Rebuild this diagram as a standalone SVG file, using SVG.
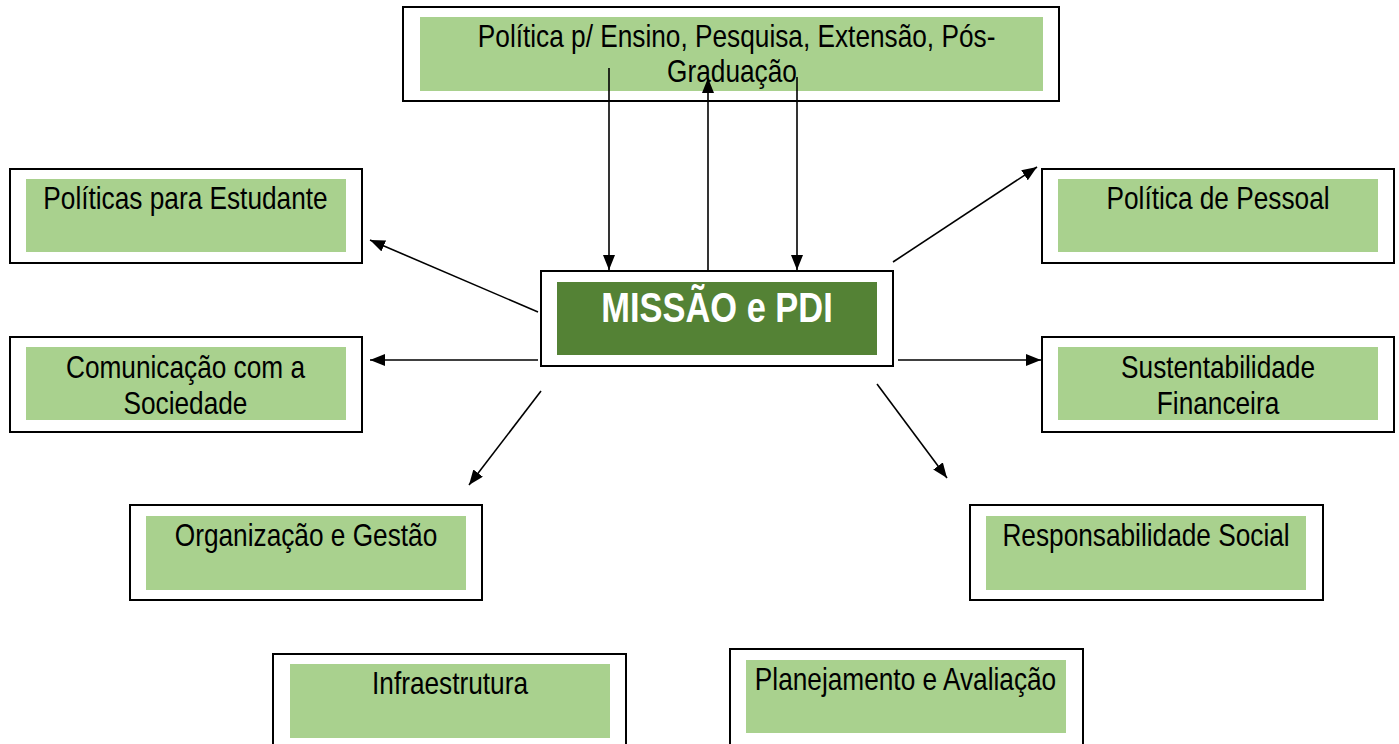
<svg xmlns="http://www.w3.org/2000/svg" width="1399" height="744" viewBox="0 0 1399 744">
<style>
.outer{fill:#fff;stroke:#000;stroke-width:2}
.inner{fill:#A9D18E}
.core{fill:#548235}
.t{font-family:"Liberation Sans",Arial,sans-serif;font-size:32px;fill:#000;text-anchor:middle}
.tb{font-family:"Liberation Sans",Arial,sans-serif;font-size:42px;font-weight:bold;fill:#fff;text-anchor:middle}
.c{stroke:#000;stroke-width:1.6;fill:none;marker-end:url(#ah)}
</style>
<defs>
<marker id="ah" markerUnits="userSpaceOnUse" markerWidth="16" markerHeight="12" refX="15" refY="6" orient="auto">
<path d="M0,0 L15,6 L0,12 z" fill="#000"/>
</marker>
</defs>
<rect width="1399" height="744" fill="#fff"/>

<g id="top">
<rect class="outer" x="403" y="7" width="656" height="94"/>
<rect class="inner" x="420" y="17" width="623" height="74"/>
<text class="t" transform="scale(0.82 1)" x="898.3" y="47">Política p/ Ensino, Pesquisa, Extensão, Pós-</text>
<text class="t" transform="scale(0.82 1)" x="892.7" y="82">Graduação</text>
</g>

<g id="estudante">
<rect class="outer" x="10" y="169" width="352" height="94"/>
<rect class="inner" x="26" y="179" width="320" height="73"/>
<text class="t" transform="scale(0.82 1)" x="226.2" y="209">Políticas para Estudante</text>
</g>

<g id="pessoal">
<rect class="outer" x="1042" y="169" width="352" height="94"/>
<rect class="inner" x="1058" y="179" width="320" height="73"/>
<text class="t" transform="scale(0.82 1)" x="1485.4" y="209">Política de Pessoal</text>
</g>

<g id="comunicacao">
<rect class="outer" x="10" y="337" width="352" height="95"/>
<rect class="inner" x="26" y="347" width="320" height="73"/>
<text class="t" transform="scale(0.82 1)" x="226.2" y="378">Comunicação com a</text>
<text class="t" transform="scale(0.82 1)" x="226.2" y="414">Sociedade</text>
</g>

<g id="sustentabilidade">
<rect class="outer" x="1042" y="337" width="352" height="95"/>
<rect class="inner" x="1058" y="347" width="320" height="73"/>
<text class="t" transform="scale(0.82 1)" x="1485.4" y="378">Sustentabilidade</text>
<text class="t" transform="scale(0.82 1)" x="1485.4" y="414">Financeira</text>
</g>

<g id="missao">
<rect class="outer" x="541" y="271" width="352" height="95"/>
<rect class="core" x="557" y="282" width="320" height="73"/>
<text class="tb" transform="scale(0.82 1)" x="874.4" y="322">MISSÃO e PDI</text>
</g>

<g id="organizacao">
<rect class="outer" x="130" y="505" width="352" height="95"/>
<rect class="inner" x="146" y="516" width="320" height="74"/>
<text class="t" transform="scale(0.82 1)" x="373.2" y="546">Organização e Gestão</text>
</g>

<g id="responsabilidade">
<rect class="outer" x="970" y="505" width="353" height="95"/>
<rect class="inner" x="986" y="516" width="320" height="74"/>
<text class="t" transform="scale(0.82 1)" x="1397.6" y="546">Responsabilidade Social</text>
</g>

<g id="infraestrutura">
<rect class="outer" x="273" y="654" width="353" height="100"/>
<rect class="inner" x="290" y="664" width="320" height="74"/>
<text class="t" transform="scale(0.82 1)" x="548.8" y="694">Infraestrutura</text>
</g>

<g id="planejamento">
<rect class="outer" x="730" y="649" width="353" height="100"/>
<rect class="inner" x="746" y="660" width="320" height="73"/>
<text class="t" transform="scale(0.82 1)" x="1104.3" y="690">Planejamento e Avaliação</text>
</g>

<g id="connectors">
<line class="c" x1="609" y1="68" x2="609" y2="270"/>
<line class="c" x1="708" y1="270" x2="708" y2="78"/>
<line class="c" x1="797" y1="77" x2="797" y2="270"/>
<line class="c" x1="538" y1="312" x2="370" y2="240"/>
<line class="c" x1="538" y1="360" x2="370" y2="360"/>
<line class="c" x1="541" y1="391" x2="469" y2="485"/>
<line class="c" x1="893" y1="262" x2="1037" y2="167"/>
<line class="c" x1="898" y1="360" x2="1041" y2="360"/>
<line class="c" x1="877" y1="384" x2="947" y2="478"/>
</g>
</svg>
